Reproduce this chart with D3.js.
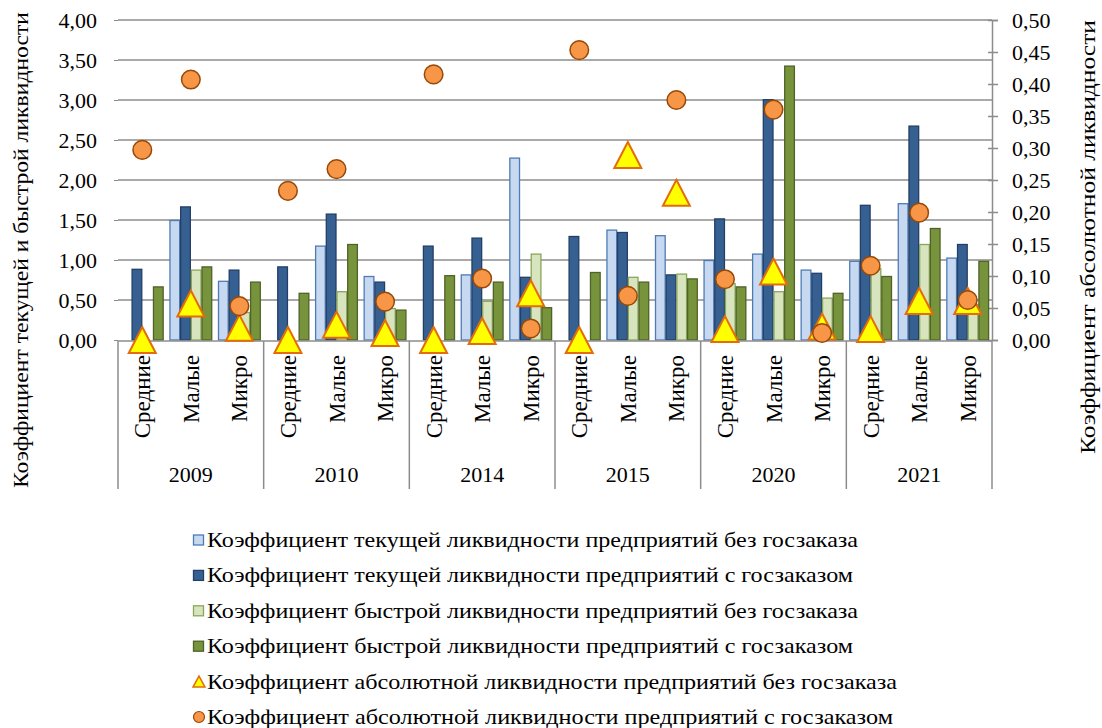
<!DOCTYPE html>
<html>
<head>
<meta charset="utf-8">
<script src="https://cdn.jsdelivr.net/npm/d3@7/dist/d3.min.js"></script>
<style>
	body { margin: 0; background: #fff; }
	svg text { font-family: "Liberation Serif", "Times New Roman", Tinos, "DejaVu Serif", serif; }
</style>
</head>
<body>
<div class="chart"></div>
<script>
/*  ======== Data ============= */
var years = ['2009', '2010', '2014', '2015', '2020', '2021'];
var sizes = ['Средние', 'Малые', 'Микро'];
var leftTicks = [0, 0.5, 1, 1.5, 2, 2.5, 3, 3.5, 4];
var rightTicks = [0, 0.05, 0.1, 0.15, 0.2, 0.25, 0.3, 0.35, 0.4, 0.45, 0.5];

// values by year, each year: Средние, Малые, Микро
var curNoOrder = [0, 1.50, 0.74,  0, 1.18, 0.80,  0, 0.82, 2.28,  0, 1.38, 1.31,  1.00, 1.08, 0.88,  0.99, 1.71, 1.03];
var curOrder = [0.89, 1.67, 0.88,  0.92, 1.58, 0.73,  1.18, 1.28, 0.79,  1.30, 1.35, 0.82,  1.52, 3.01, 0.84,  1.69, 2.68, 1.20];
var quickNoOrder = [0, 0.88, 0.35,  0, 0.61, 0.40,  0, 0.49, 1.08,  0, 0.79, 0.83,  0.71, 0.61, 0.53,  0.90, 1.20, 0.45];
var quickOrder = [0.67, 0.92, 0.73,  0.59, 1.20, 0.38,  0.81, 0.73, 0.41,  0.85, 0.73, 0.77,  0.67, 3.43, 0.59,  0.80, 1.40, 0.99];
var absNoOrder = [0, 0.057, 0.019,  0, 0.024, 0.011,  0, 0.014, 0.073,  0, 0.289, 0.230,  0.017, 0.107, 0.021,  0.017, 0.061, 0.061];
var absOrder = [0.297, 0.407, 0.053,  0.233, 0.267, 0.060,  0.415, 0.096, 0.018,  0.453, 0.069, 0.375,  0.095, 0.360, 0.011,  0.116, 0.199, 0.0625];

var seriesNames = [
	'Коэффициент текущей ликвидности предприятий без госзаказа',
	'Коэффициент текущей ликвидности предприятий с госзаказом',
	'Коэффициент быстрой ликвидности предприятий без госзаказа',
	'Коэффициент быстрой ликвидности предприятий с госзаказом',
	'Коэффициент абсолютной ликвидности предприятий без госзаказа',
	'Коэффициент абсолютной ликвидности предприятий с госзаказом'
];
var leftTitle = 'Коэффициент текущей и быстрой ликвидности';
var rightTitle = 'Коэффициент абсолютной ликвидности';
/*  ======== Data ============= */

var width = 1102, height = 728;
var plotLeft = 118, plotRight = 992, plotTop = 20, plotBottom = 340;
var fontSize = 23;
var gridColor = '#8c8c8c';
var barFills = ['#c6d9f1', '#366092', '#d7e4bd', '#77933c'];
var barStrokes = ['#4f7bb5', '#243f66', '#8aa65a', '#4f6228'];
var legendWidths = [651, 646, 651, 646, 690, 686];

var svg = d3.select('.chart')
			.append('svg')
			.attr('width', width)
			.attr('height', height);

var cats = [];
for (var i = 0; i < years.length; i++) {
	for (var j = 0; j < sizes.length; j++) {
		cats.push(years[i] + '|' + sizes[j]);
	}
}

var x = d3.scaleBand().domain(cats).range([plotLeft, plotRight]).paddingInner(0).paddingOuter(0);
var xInner = d3.scaleBand().domain([0, 1, 2, 3]).range([0, x.bandwidth()]).paddingInner(0).paddingOuter(0.27);
var yLeft = d3.scaleLinear().domain([0, 4]).range([plotBottom, plotTop]);
var yRight = d3.scaleLinear().domain([0, 0.5]).range([plotBottom, plotTop]);

function fmt(v) {
	return d3.format('.2f')(v).replace('.', ',');
}

// grid lines
svg.append('g')
	.selectAll('line')
	.data(leftTicks.slice(1))
	.enter().append('line')
	.attr('x1', plotLeft)
	.attr('x2', plotRight)
	.attr('y1', function(d){ return yLeft(d); })
	.attr('y2', function(d){ return yLeft(d); })
	.attr('stroke', gridColor)
	.attr('stroke-width', 1.5);

// left axis
var leftAxis = svg.append('g')
	.attr('transform', 'translate(' + plotLeft + ',0)')
	.call(d3.axisLeft(yLeft).tickValues(leftTicks).tickFormat(fmt).tickSize(4).tickPadding(17));
leftAxis.select('.domain').remove();
leftAxis.selectAll('line').attr('stroke', gridColor);
leftAxis.selectAll('text').attr('font-size', fontSize - 1).attr('fill', '#000');

// right axis
var rightAxis = svg.append('g')
	.attr('transform', 'translate(' + plotRight + ',0)')
	.call(d3.axisRight(yRight).tickValues(rightTicks).tickFormat(fmt).tickSize(6).tickPadding(14));
rightAxis.select('.domain').attr('stroke', gridColor).attr('stroke-width', 1.5);
rightAxis.selectAll('line').attr('stroke', gridColor).attr('stroke-width', 1.5).attr('x1', -4);
rightAxis.selectAll('text').attr('font-size', fontSize - 1).attr('fill', '#000');

// bars
var barData = [curNoOrder, curOrder, quickNoOrder, quickOrder];
for (var s = 0; s < barData.length; s++) {
	var rows = [];
	for (var k = 0; k < cats.length; k++) {
		if (barData[s][k] > 0) rows.push({ cat: cats[k], v: barData[s][k] });
	}
	svg.append('g')
		.selectAll('rect')
		.data(rows)
		.enter().append('rect')
		.attr('x', function(d){ return x(d.cat) + xInner(s) + 0.5; })
		.attr('y', function(d){ return yLeft(d.v) + 0.5; })
		.attr('width', xInner.bandwidth() - 1)
		.attr('height', function(d){ return plotBottom - yLeft(d.v) - 0.5; })
		.attr('fill', barFills[s])
		.attr('stroke', barStrokes[s])
		.attr('stroke-width', 1.3);
}

// category axis
svg.append('line')
	.attr('x1', plotLeft).attr('x2', plotRight)
	.attr('y1', plotBottom + 1).attr('y2', plotBottom + 1)
	.attr('stroke', gridColor).attr('stroke-width', 1.5);
for (var i = 0; i <= years.length; i++) {
	var xx = i < years.length ? x(years[i] + '|' + sizes[0]) : plotRight;
	svg.append('line')
		.attr('x1', xx).attr('x2', xx)
		.attr('y1', plotBottom + 1).attr('y2', 489)
		.attr('stroke', gridColor).attr('stroke-width', 1.5);
}
svg.append('g')
	.selectAll('text')
	.data(cats)
	.enter().append('text')
	.attr('transform', function(d){ return 'translate(' + (x(d) + x.bandwidth() / 2 + 8) + ',355) rotate(-90)'; })
	.attr('text-anchor', 'end')
	.attr('font-size', fontSize)
	.text(function(d){ return d.split('|')[1]; });
svg.append('g')
	.selectAll('text')
	.data(years)
	.enter().append('text')
	.attr('x', function(d){ return x(d + '|' + sizes[1]) + x.bandwidth() / 2; })
	.attr('y', 482)
	.attr('text-anchor', 'middle')
	.attr('font-size', fontSize - 1)
	.text(function(d){ return d; });

// markers
var triPath = 'M0,-13 L13.5,13 L-13.5,13 Z';
svg.append('g')
	.selectAll('path')
	.data(absNoOrder)
	.enter().append('path')
	.attr('d', triPath)
	.attr('transform', function(d, k){ return 'translate(' + (x(cats[k]) + x.bandwidth() / 2) + ',' + yRight(d) + ')'; })
	.attr('fill', '#ffff00')
	.attr('stroke', '#e46c0a')
	.attr('stroke-width', 2);
svg.append('g')
	.selectAll('circle')
	.data(absOrder)
	.enter().append('circle')
	.attr('cx', function(d, k){ return x(cats[k]) + x.bandwidth() / 2; })
	.attr('cy', function(d){ return yRight(d); })
	.attr('r', 9.3)
	.attr('fill', '#f79646')
	.attr('stroke', '#984807')
	.attr('stroke-width', 1.5);

// axis titles
svg.append('text')
	.attr('transform', 'translate(28,250) rotate(-90)')
	.attr('text-anchor', 'middle')
	.attr('font-size', fontSize - 1)
	.attr('textLength', 476)
	.attr('lengthAdjust', 'spacingAndGlyphs')
	.text(leftTitle);
svg.append('text')
	.attr('transform', 'translate(1095,237) rotate(-90)')
	.attr('text-anchor', 'middle')
	.attr('font-size', fontSize - 1)
	.attr('textLength', 434)
	.attr('lengthAdjust', 'spacingAndGlyphs')
	.text(rightTitle);

// legend
var legendX = 193, legendY = 540, legendStep = 35.4;
for (var i = 0; i < seriesNames.length; i++) {
	var ly = legendY + legendStep * i;
	if (i < 4) {
		svg.append('rect')
			.attr('x', legendX + 0.5).attr('y', ly - 5)
			.attr('width', 10).attr('height', 10)
			.attr('fill', barFills[i])
			.attr('stroke', barStrokes[i])
			.attr('stroke-width', 1.3);
	} else if (i == 4) {
		svg.append('path')
			.attr('d', 'M0,-5.5 L6,5.5 L-6,5.5 Z')
			.attr('transform', 'translate(' + (legendX + 6) + ',' + ly + ')')
			.attr('fill', '#ffff00')
			.attr('stroke', '#e46c0a')
			.attr('stroke-width', 1.5);
	} else {
		svg.append('circle')
			.attr('cx', legendX + 6).attr('cy', ly)
			.attr('r', 5.5)
			.attr('fill', '#f79646')
			.attr('stroke', '#984807')
			.attr('stroke-width', 1.2);
	}
	svg.append('text')
		.attr('x', legendX + 14)
		.attr('y', ly + 7)
		.attr('font-size', fontSize - 1)
		.attr('textLength', legendWidths[i])
		.attr('lengthAdjust', 'spacingAndGlyphs')
		.text(seriesNames[i]);
}
</script>
</body>
</html>
